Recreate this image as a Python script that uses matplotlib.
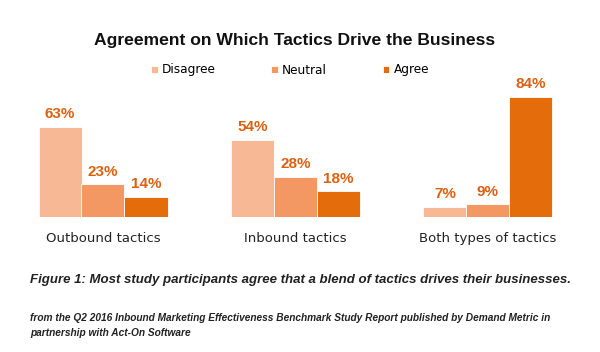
import matplotlib
matplotlib.use("Agg")
import matplotlib.pyplot as plt
import numpy as np

categories = ["Outbound tactics", "Inbound tactics", "Both types of tactics"]
series_names = ["Disagree", "Neutral", "Agree"]
disagree = [63, 54, 7]
neutral = [23, 28, 9]
agree = [14, 18, 84]
values = [disagree, neutral, agree]
colors = ["#F7B995", "#F39763", "#E46C0A"]
label_color = "#DC600F"

title = "Agreement on Which Tactics Drive the Business"
caption = "Figure 1: Most study participants agree that a blend of tactics drives their businesses."
source1 = "from the Q2 2016 Inbound Marketing Effectiveness Benchmark Study Report published by Demand Metric in"
source2 = "partnership with Act-On Software"

fig = plt.figure(figsize=(6, 3.52), dpi=100)
ax = fig.add_axes([0, (352 - 217) / 352, 1, 143 / 352])

w = 43 / 192.5
x = np.arange(len(categories))
bars = []
for i, (name, vals, c) in enumerate(zip(series_names, values, colors)):
    b = ax.bar(x + (i - 1) * w, vals, width=w, color=c, edgecolor="white",
               linewidth=0.6, label=name)
    bars.append(b)
    for rect, v in zip(b, vals):
        ax.annotate(f"{v}%", (rect.get_x() + rect.get_width() / 2, rect.get_height()),
                    xytext=(0, 4), textcoords="offset points", ha="center", va="bottom",
                    fontsize=11, fontweight="bold", color=label_color,
                    family="Liberation Sans")

ax.set_xlim(-103 / 192.5, (600 - 103) / 192.5)
ax.set_ylim(0, 100)
for s in ax.spines.values():
    s.set_visible(False)
ax.set_yticks([])
ax.set_xticks(x)
ax.set_xticklabels(categories, fontsize=9.5, family="DejaVu Sans", color="#222222")
ax.tick_params(axis="x", length=0, pad=11)

fig.text(295 / 600, 1 - 40 / 352, title, ha="center", va="center", fontsize=12.6,
         fontweight="bold", family="Liberation Sans", color="#111111")

fig.legend(handles=bars, labels=series_names, loc="center", bbox_to_anchor=(290 / 600, 1 - 70 / 352),
           ncol=3, frameon=False, handlelength=0.55, handleheight=0.55,
           handletextpad=0.35, columnspacing=4.6, prop={"family": "DejaVu Sans", "size": 8.7})

fig.text(30 / 600, 1 - 280 / 352, caption, ha="left", va="center", fontsize=9.5,
         fontweight="bold", fontstyle="italic", family="Liberation Sans", color="#222222")
fig.text(30 / 600, 1 - 318 / 352, source1, ha="left", va="center", fontsize=7.33,
         fontweight="bold", fontstyle="italic", family="Liberation Sans", color="#222222")
fig.text(30 / 600, 1 - 333 / 352, source2, ha="left", va="center", fontsize=7.33,
         fontweight="bold", fontstyle="italic", family="Liberation Sans", color="#222222")

fig.savefig("out.png", dpi=100)
